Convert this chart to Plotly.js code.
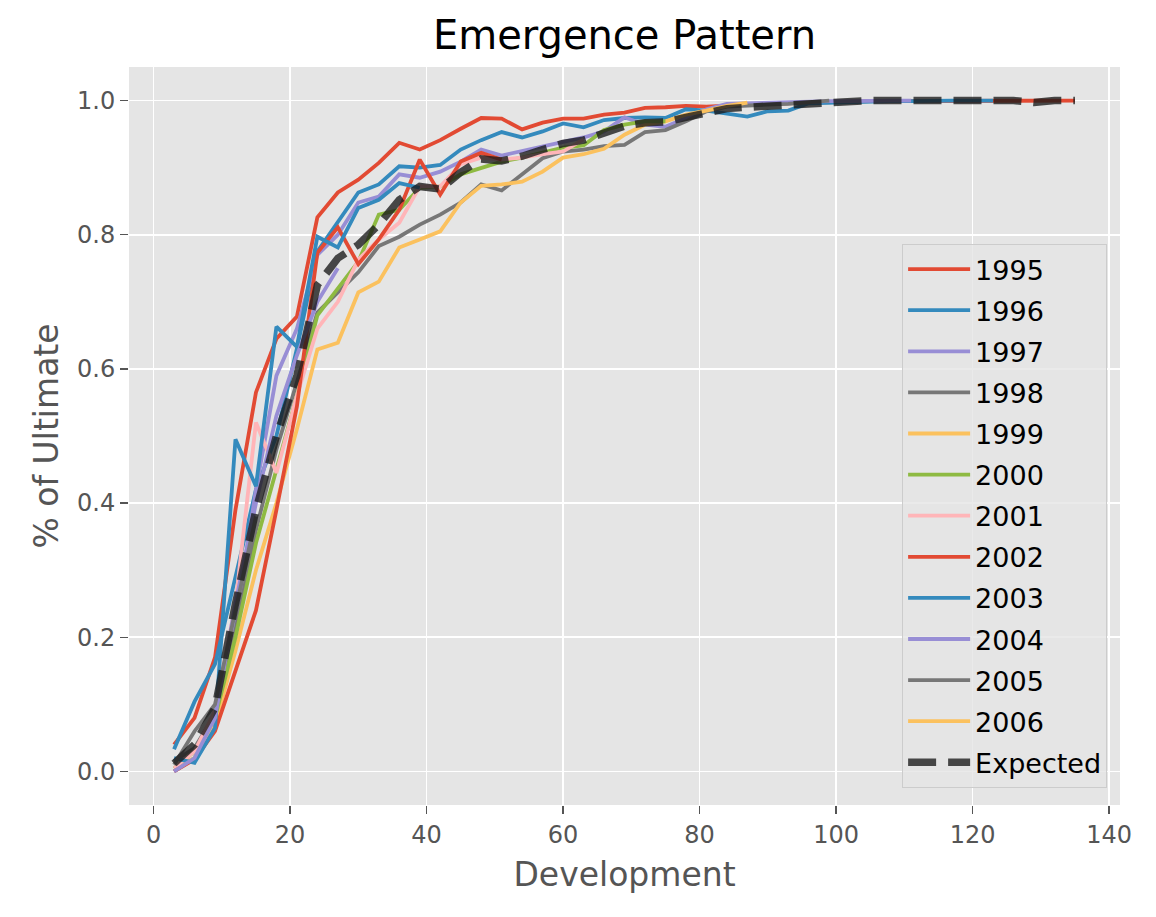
<!DOCTYPE html>
<html>
<head>
<meta charset="utf-8">
<script src="https://cdn.plot.ly/plotly-3.0.1.min.js"></script>
<style>
  html, body { margin: 0; padding: 0; background: #ffffff; }
  #myPlot { width: 1156px; height: 917px; }
</style>
</head>
<body>
<div id="myPlot"></div>
<script>
// Development ages (months), quarterly
var dev = [3, 6, 9, 12, 15, 18, 21, 24, 27, 30, 33, 36, 39, 42, 45, 48, 51, 54, 57, 60,
           63, 66, 69, 72, 75, 78, 81, 84, 87, 90, 93, 96, 99, 102, 105, 108, 111, 114,
           117, 120, 123, 126, 129, 132, 135];

var years = ["1995", "1996", "1997", "1998", "1999", "2000", "2001", "2002", "2003", "2004", "2005", "2006"];

// % of ultimate per accident year
var y1995 = [0.04, 0.08, 0.17, 0.39, 0.565, 0.645, 0.678, 0.826, 0.863, 0.882, 0.907, 0.937, 0.927, 0.941,
             0.958, 0.974, 0.973, 0.957, 0.967, 0.973, 0.973, 0.979, 0.982, 0.989, 0.990, 0.992, 0.991,
             0.993, 0.994, 0.995, 0.996, 0.997, 0.998, 0.998, 0.999, 0.999, 0.999, 1.0, 1.0, 1.0, 1.0,
             1.0, 0.999, 1.0, 1.0];
var y1996 = [0.033, 0.104, 0.16, 0.29, 0.42, 0.50, 0.63, 0.775, 0.82, 0.863, 0.875, 0.902, 0.90, 0.904,
             0.927, 0.941, 0.953, 0.945, 0.954, 0.966, 0.960, 0.971, 0.974, 0.975, 0.974, 0.987, 0.985,
             0.981, 0.976, 0.984, 0.985, 0.996, 0.997, 0.998, 0.999, 0.999, 0.999, 1.0, 1.0, 1.0, 1.0];
var y1997 = [0.0, 0.02, 0.09, 0.22, 0.42, 0.59, 0.66, 0.77, 0.80, 0.848, 0.857, 0.89, 0.885, 0.894,
             0.909, 0.927, 0.918, 0.925, 0.932, 0.939, 0.945, 0.954, 0.975, 0.964, 0.961, 0.974, 0.987,
             0.995, 0.996, 0.997, 0.997, 0.998, 0.999, 0.999, 1.0, 1.0, 1.0];
var y1998 = [0.015, 0.035, 0.085, 0.21, 0.36, 0.48, 0.58, 0.684, 0.714, 0.744, 0.783, 0.797, 0.815, 0.83,
             0.848, 0.875, 0.866, 0.89, 0.914, 0.924, 0.927, 0.932, 0.934, 0.953, 0.956, 0.969, 0.984,
             0.991, 0.993, 0.994, 0.995, 0.997, 1.0];
var y1999 = [0.005, 0.02, 0.07, 0.18, 0.30, 0.40, 0.51, 0.629, 0.639, 0.714, 0.730, 0.781, 0.793, 0.805,
             0.848, 0.873, 0.875, 0.879, 0.894, 0.915, 0.920, 0.928, 0.949, 0.964, 0.969, 0.979, 0.985,
             0.992, 0.997];
var y2000 = [0.005, 0.03, 0.08, 0.20, 0.34, 0.45, 0.56, 0.68, 0.72, 0.76, 0.83, 0.837, 0.87, 0.872,
             0.89, 0.899, 0.909, 0.915, 0.922, 0.930, 0.933, 0.956, 0.964, 0.969, 0.969];
var y2001 = [0.005, 0.03, 0.09, 0.25, 0.52, 0.445, 0.56, 0.66, 0.70, 0.763, 0.793, 0.818, 0.872, 0.872,
             0.905, 0.915, 0.912, 0.915, 0.920, 0.924, 0.942];
var y2002 = [0.0, 0.018, 0.06, 0.15, 0.24, 0.39, 0.544, 0.773, 0.811, 0.756, 0.793, 0.837, 0.912, 0.86,
             0.909, 0.922, 0.912];
var y2003 = [0.02, 0.013, 0.065, 0.495, 0.425, 0.663, 0.633, 0.797, 0.781, 0.84, 0.852, 0.877, 0.87];
var y2004 = [0.0, 0.02, 0.08, 0.25, 0.40, 0.53, 0.62, 0.70, 0.75];
var y2005 = [0.01, 0.06, 0.10, 0.24, 0.38];
var y2006 = [0.01];

var expected = [0.012, 0.04, 0.095, 0.25, 0.39, 0.50, 0.59, 0.725, 0.765, 0.785, 0.815, 0.852, 0.872, 0.868,
                0.893, 0.913, 0.91, 0.917, 0.927, 0.936, 0.941, 0.953, 0.962, 0.967, 0.968, 0.975, 0.982,
                0.988, 0.990, 0.992, 0.994, 0.996, 0.998, 0.999, 1.0, 1.0, 1.0, 1.0, 1.0, 1.0, 1.0,
                1.0, 0.997, 1.0, 1.0];

var series = [y1995, y1996, y1997, y1998, y1999, y2000, y2001, y2002, y2003, y2004, y2005, y2006];

// ggplot style colour cycle
var cycle = ["#E24A33", "#348ABD", "#988ED5", "#777777", "#FBC15E", "#8EBA42", "#FFB5B8"];

var font = "DejaVu Sans, sans-serif";

function makeTraces() {
    /* One line per accident year, plus the dashed expected pattern on top */
    var data = [];
    for (var i = 0; i < series.length; ++i) {
        data.push({
            x: dev.slice(0, series[i].length),
            y: series[i],
            name: years[i],
            type: "scatter",
            mode: "lines",
            legendgroup: years[i],
            line: { color: cycle[i % cycle.length], width: 3.8 }
        });
    }
    data.push({
        x: dev,
        y: expected,
        name: "Expected",
        type: "scatter",
        mode: "lines",
        legendgroup: "Expected",
        line: { color: "rgba(25,25,25,0.78)", width: 7.5, dash: "28px,12px" }
    });
    return data;
}

var axisCommon = {
    showgrid: true,
    gridcolor: "#ffffff",
    gridwidth: 1.6,
    zeroline: false,
    showline: false,
    ticks: "outside",
    ticklen: 8,
    tickwidth: 1.5,
    tickcolor: "#555555",
    tickfont: { family: font, size: 24, color: "#555555" }
};

var layout = {
    width: 1156,
    height: 917,
    paper_bgcolor: "#ffffff",
    plot_bgcolor: "#E5E5E5",
    margin: { l: 129, r: 36, t: 67, b: 112 },
    title: {
        text: "Emergence Pattern",
        font: { family: font, size: 40, color: "#000000" },
        x: 0.5, xref: "paper",
        y: 1 - 35 / 917, yref: "container", yanchor: "middle"
    },
    xaxis: Object.assign({}, axisCommon, {
        range: [-3.6, 141.6],
        tickvals: [0, 20, 40, 60, 80, 100, 120, 140],
        title: { text: "Development", standoff: 15, font: { family: font, size: 33, color: "#555555" } }
    }),
    yaxis: Object.assign({}, axisCommon, {
        range: [-0.05, 1.05],
        tickvals: [0, 0.2, 0.4, 0.6, 0.8, 1.0],
        tickformat: ".1f",
        title: { text: "% of Ultimate", standoff: 8, font: { family: font, size: 33, color: "#555555" } }
    }),
    showlegend: true,
    legend: {
        x: 0.987, y: 0.023,
        xanchor: "right", yanchor: "bottom",
        bgcolor: "rgba(229,229,229,0.8)",
        bordercolor: "#cccccc",
        borderwidth: 1,
        traceorder: "grouped",
        tracegroupgap: 3,
        itemwidth: 62,
        font: { family: font, size: 27, color: "#000000" }
    }
};

var config = { staticPlot: true, displayModeBar: false };

Plotly.newPlot("myPlot", makeTraces(), layout, config);
</script>
</body>
</html>
